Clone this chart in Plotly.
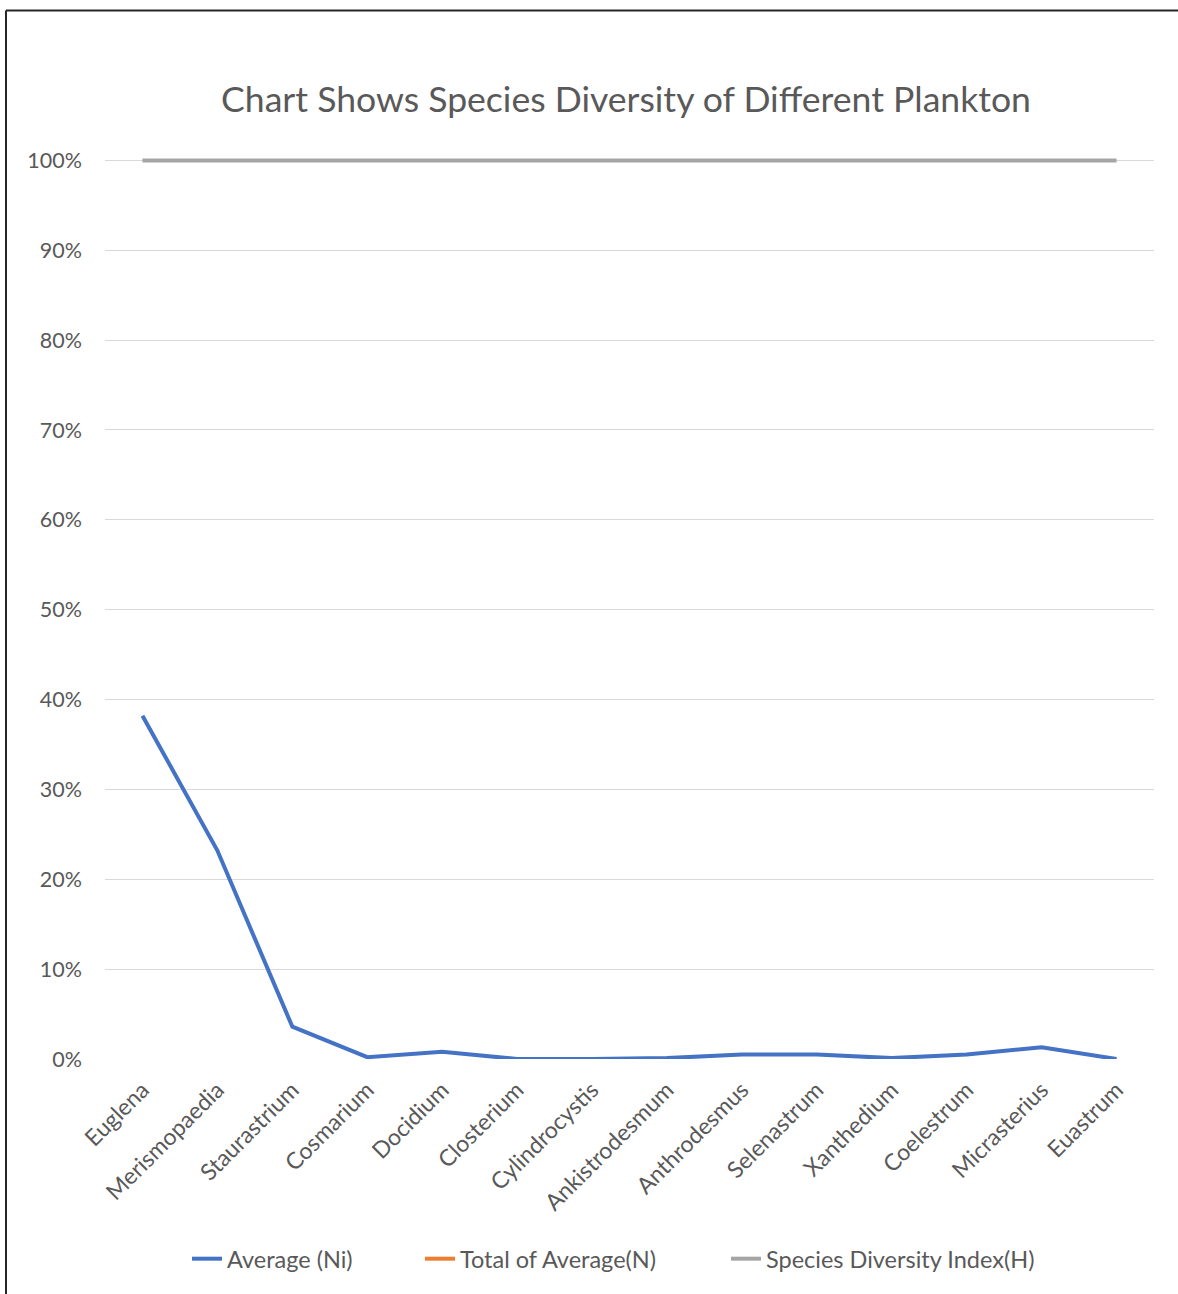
import plotly.graph_objects as go

categories = ["Euglena", "Merismopaedia", "Staurastrium", "Cosmarium", "Docidium",
              "Closterium", "Cylindrocystis", "Ankistrodesmum", "Anthrodesmus",
              "Selenastrum", "Xanthedium", "Coelestrum", "Micrasterius", "Euastrum"]
average_ni = [0.382, 0.232, 0.036, 0.002, 0.008, 0.0, 0.0, 0.001, 0.005, 0.005,
              0.001, 0.005, 0.013, 0.0]
total_of_average = [1.0] + [None] * 13
diversity_index = [1.0] * 14
y_ticks = [i / 10 for i in range(11)]
y_tick_labels = [f"{i * 10}%" for i in range(11)]

FONT = "Lato"
GREY_TEXT = "#595959"

fig = go.Figure()
fig.add_trace(go.Scatter(x=categories, y=average_ni, mode="lines", name="Average (Ni)",
                         line=dict(color="#4472C4", width=4), legend="legend"))
fig.add_trace(go.Scatter(x=categories, y=total_of_average, mode="lines", name="Total of Average(N)",
                         line=dict(color="#ED7D31", width=4), legend="legend2"))
fig.add_trace(go.Scatter(x=categories, y=diversity_index, mode="lines", name="Species Diversity Index(H)",
                         line=dict(color="#A5A5A5", width=4), legend="legend3"))

PX_PER_UNIT = 899.0
PLOT_W = 1049.0


def px_to_paper_x(px):
    return (px - 105) / PLOT_W


def px_to_paper_y(py):
    return (1059 - py) / PLOT_W * PLOT_W / (904.4)


def legend_at(text_left_px):
    return dict(orientation="h", x=px_to_paper_x(text_left_px - 42), xanchor="left",
                y=px_to_paper_y(1259), yanchor="middle",
                font=dict(size=23.5, color=GREY_TEXT, family=FONT),
                bgcolor="rgba(0,0,0,0)")


# y range slightly above 1 so the 100% line is not clipped; margins keep 0%..100% at 1059..160 px
Y_TOP = 1.006
fig.update_layout(
    width=1178, height=1294,
    margin=dict(l=105, r=24, t=154.6, b=235),
    paper_bgcolor="white", plot_bgcolor="white",
    font=dict(family=FONT, color=GREY_TEXT, size=21),
    title=dict(text="Chart Shows Species Diversity of Different Plankton",
               font=dict(size=35.6, color=GREY_TEXT, family=FONT),
               x=px_to_paper_x(626), xref="paper", xanchor="center",
               y=1 - 100 / 1294, yref="container", yanchor="middle"),
    showlegend=True,
    legend=legend_at(229),
    legend2=legend_at(462),
    legend3=legend_at(768),
    xaxis=dict(type="category", range=[-0.5, 13.5], showgrid=False, showline=False,
               zeroline=False, tickangle=-45, ticks="", ticklabelstandoff=12,
               tickfont=dict(size=23, color=GREY_TEXT)),
    yaxis=dict(range=[0, Y_TOP], tickvals=y_ticks, ticktext=y_tick_labels,
               showgrid=True, gridcolor="#D9D9D9", gridwidth=1, zeroline=False,
               showline=False, ticks="", ticklabelstandoff=22,
               tickfont=dict(size=21.5, color=GREY_TEXT)),
    shapes=[
        dict(type="line", xref="paper", yref="paper",
             x0=px_to_paper_x(6), x1=px_to_paper_x(1190),
             y0=px_to_paper_y(10), y1=px_to_paper_y(10),
             line=dict(color="#262626", width=2)),
        dict(type="line", xref="paper", yref="paper",
             x0=px_to_paper_x(6), x1=px_to_paper_x(6),
             y0=px_to_paper_y(10), y1=px_to_paper_y(1300),
             line=dict(color="#262626", width=2)),
    ],
)

fig.write_html("out.html")
